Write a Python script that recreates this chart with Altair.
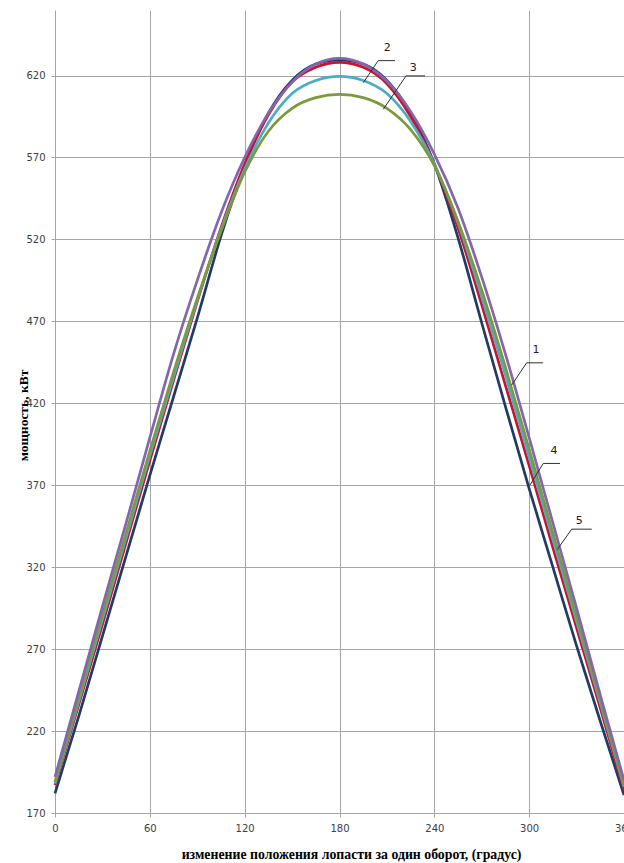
import altair as alt
import pandas as pd

# Blade angle over one revolution, degrees
angle = [0, 15, 30, 45, 60, 75, 90, 105, 120, 135, 150, 165, 180,
         195, 210, 225, 240, 255, 270, 285, 300, 315, 330, 345, 360]

# Power, kW, for each curve
power_5 = [182, 229, 278, 327, 376, 424, 472, 522, 565, 597, 617, 627, 629.5,
           627, 617, 597, 566, 521, 469, 418, 368, 320, 272, 226, 181]
power_4 = [187, 236, 285, 335, 385, 434, 482, 527, 566, 596, 616, 625, 628,
           625, 615, 595, 566, 527, 480, 431, 382, 332, 283, 234, 184]
power_2 = [188, 238, 288, 338, 388, 436, 483, 526, 563, 591, 609, 617, 619.5,
           617, 609, 592, 566, 530, 485, 437, 387, 337, 287, 237, 186]
power_3 = [189, 240, 291, 341, 391, 439, 484, 525, 561, 586, 600, 606.5, 608.5,
           606.5, 600, 587, 565, 531, 489, 442, 392, 341, 290, 239, 187]
power_1 = [192, 244, 296, 347, 399, 450, 495, 536, 570, 597, 616, 627, 630.5,
           627, 616.5, 598, 572, 539, 497, 450, 399, 347, 295, 242, 190]

# Drawing order: bottom layer first
curves = [
    ("5", power_5, "#1F3B66"),
    ("4", power_4, "#D0112B"),
    ("2", power_2, "#4BACC6"),
    ("3", power_3, "#7B9A3E"),
    ("1", power_1, "#8466AE"),
]

# Curve number labels and their leader lines (angle, power)
label_text = ["1", "4", "5", "2", "3"]
label_x = [304.3, 315.7, 331.7, 210.2, 226.7]
label_y = [452.5, 391.0, 348.3, 637.0, 624.8]
leader_id = ["1", "1", "1", "4", "4", "4", "5", "5", "5",
             "2", "2", "2", "3", "3", "3"]
leader_x = [288.9, 298.4, 308.9, 300.5, 308.9, 319.5, 317.8, 326.9, 339.6,
            195.1, 204.5, 215.1, 207.7, 222.1, 234.1]
leader_y = [431.1, 444.7, 444.7, 370.1, 383.3, 383.3, 330.8, 343.2, 343.2,
            615.7, 629.1, 629.1, 599.4, 619.8, 619.8]
leader_step = [0, 1, 2] * 5

x_ticks = [0, 60, 120, 180, 240, 300, 360]
y_ticks = [170, 220, 270, 320, 370, 420, 470, 520, 570, 620]

grid_color = "#A6A6A6"

x_enc = alt.X(
    "angle:Q",
    scale=alt.Scale(domain=[0, 360], nice=False),
    axis=alt.Axis(
        values=x_ticks,
        title="изменение положения лопасти за один оборот, (градус)",
        titleFont="Liberation Serif",
        titleFontWeight="bold",
        titleFontSize=13.8,
        titleColor="#000000",
        titleX=296,
        titleY=45,
        titleAlign="center",
        titleBaseline="alphabetic",
        labelFont="DejaVu Sans",
        labelFontSize=10,
        labelColor="#404040",
        labelPadding=6,
        labelOverlap=False,
        labelFlush=False,
        tickColor=grid_color,
        tickSize=4,
        domain=False,
        grid=True,
        gridColor=grid_color,
        gridWidth=1,
    ),
)

y_enc = alt.Y(
    "power:Q",
    scale=alt.Scale(domain=[170, 660], nice=False, zero=False),
    axis=alt.Axis(
        values=y_ticks,
        title="мощность, кВт",
        titleFont="Liberation Serif",
        titleFontWeight="bold",
        titleFontSize=13.5,
        titleColor="#000000",
        titleAngle=270,
        titleX=-32,
        titleY=405,
        titleAlign="center",
        titleBaseline="middle",
        labelFont="DejaVu Sans",
        labelFontSize=10,
        labelColor="#404040",
        labelPadding=6,
        labelOverlap=False,
        tickColor=grid_color,
        tickSize=4,
        domain=False,
        grid=True,
        gridColor=grid_color,
        gridWidth=1,
    ),
)

layers = []
for i, (name, values, color) in enumerate(curves):
    df = pd.DataFrame({"angle": angle, "power": values, "curve": name})
    line = alt.Chart(df).mark_line(
        color=color, strokeWidth=2.7, interpolate="monotone"
    ).encode(
        x=x_enc if i == 0 else alt.X("angle:Q"),
        y=y_enc if i == 0 else alt.Y("power:Q"),
    )
    layers.append(line)

leaders_df = pd.DataFrame({
    "angle": leader_x, "power": leader_y, "id": leader_id, "step": leader_step
})
leaders = alt.Chart(leaders_df).mark_line(color="#303030", strokeWidth=1).encode(
    x="angle:Q", y="power:Q", detail="id:N", order="step:Q"
)

labels_df = pd.DataFrame({"angle": label_x, "power": label_y, "text": label_text})
labels = alt.Chart(labels_df).mark_text(
    font="DejaVu Sans", fontSize=11, color="#202020", align="center", baseline="middle"
).encode(x="angle:Q", y="power:Q", text="text:N")

chart = alt.layer(*layers, leaders, labels).properties(
    width=569,
    height=803,
    background="#FFFFFF",
    autosize=alt.AutoSizeParams(type="none"),
    padding={"left": 55, "top": 10, "right": 0, "bottom": 50},
).configure_view(stroke=None)

chart.save("out.html", embed_options={"renderer": "svg", "actions": False})
